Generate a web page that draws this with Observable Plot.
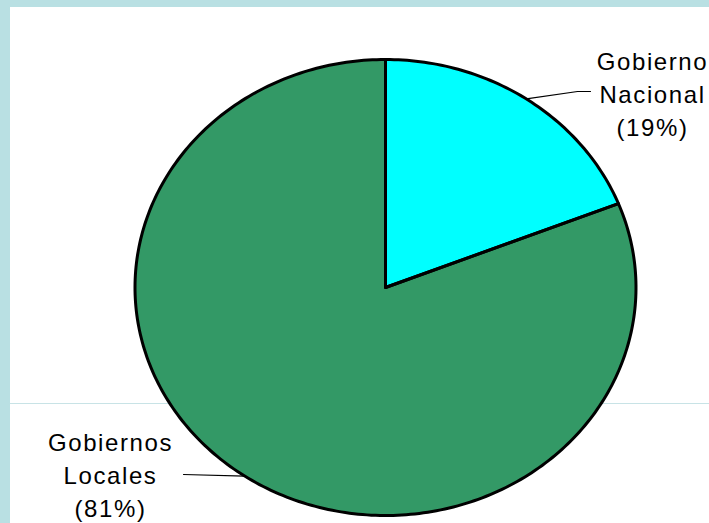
<!DOCTYPE html>
<html>
<head>
<meta charset="utf-8">
<script src="https://cdn.jsdelivr.net/npm/d3@7"></script>
<script src="https://cdn.jsdelivr.net/npm/@observablehq/plot@0.6"></script>
<style>
  html, body { margin: 0; padding: 0; }
  body { width: 709px; height: 523px; background: #b9e0e3; position: relative; overflow: hidden; }
  #panel { position: absolute; left: 10px; top: 7px; right: 0; bottom: 0; background: #ffffff; }
  #grid { position: absolute; left: 10px; right: 0; top: 403px; height: 1px; background: #c8e3e6; }
  #chart { position: absolute; left: 0; top: 0; }
  #chart svg text { letter-spacing: 1.6px; }
</style>
</head>
<body>
<div id="panel"></div>
<div id="grid"></div>
<div id="chart"></div>
<script>
// ---- data ----
const categories = ["Gobierno Nacional", "Gobiernos Locales"];
const values = [19, 81];
const labels = ["Gobierno\nNacional\n(19%)", "Gobiernos\nLocales\n(81%)"];
const colors = ["#00ffff", "#339966"];

// ---- geometry (pie units: unit circle, y up) ----
const total = d3.sum(values);
let acc = 0;
const slices = values.map((v, i) => {
  const a0 = acc / total * 2 * Math.PI;
  acc += v;
  const a1 = acc / total * 2 * Math.PI;
  return {name: categories[i], a0, a1, mid: (a0 + a1) / 2, color: colors[i], label: labels[i]};
});
const polyPts = [];
slices.forEach((s) => {
  polyPts.push({name: s.name, x: 0, y: 0});
  const n = Math.max(8, Math.ceil((s.a1 - s.a0) / (Math.PI / 180)));
  for (let k = 0; k <= n; k++) {
    const a = s.a0 + (s.a1 - s.a0) * k / n;
    polyPts.push({name: s.name, x: Math.sin(a), y: Math.cos(a)});
  }
  polyPts.push({name: s.name, x: 0, y: 0});
});

// pixel layout of the ellipse
const cx = 385, cy = 287, rx = 250.5, ry = 228;
const ux = (px) => (px - cx) / rx;
const uy = (py) => (cy - py) / ry;

// leader lines: from slice mid-angle on rim outward
const leaders = [];
const s0 = slices[0], s1 = slices[1];
[[Math.sin(s0.mid), Math.cos(s0.mid)], [ux(577), uy(91)], [ux(590), uy(91)]]
  .forEach(([x, y]) => leaders.push({name: s0.name, x, y}));
[[Math.sin(s1.mid), Math.cos(s1.mid)], [ux(183), uy(474)]]
  .forEach(([x, y]) => leaders.push({name: s1.name, x, y}));

const labelPos = [
  {label: s0.label, x: ux(652), y: uy(92)},
  {label: s1.label, x: ux(110), y: uy(473)}
];

const plot = Plot.plot({
  width: 709,
  height: 523,
  margin: 0,
  style: {background: "transparent", fontFamily: "'Liberation Sans', Arial, sans-serif"},
  x: {domain: [-1, 1], range: [cx - rx, cx + rx], axis: null},
  y: {domain: [-1, 1], range: [cy + ry, cy - ry], axis: null},
  color: {domain: categories, range: colors},
  marks: [
    Plot.line(polyPts, {x: "x", y: "y", z: "name", fill: "name", stroke: "none", curve: "linear"}),
    Plot.line(polyPts, {x: "x", y: "y", z: "name", stroke: "#000", strokeWidth: 3, fill: "none", curve: "linear", strokeLinejoin: "round"}),
    Plot.line(leaders, {x: "x", y: "y", z: "name", stroke: "#000", strokeWidth: 1.2}),
    Plot.text(labelPos, {x: "x", y: "y", text: "label", fontSize: 24, lineHeight: 1.375, textAnchor: "middle", lineAnchor: "middle", fill: "#000"})
  ]
});
document.getElementById("chart").appendChild(plot);
</script>
</body>
</html>
